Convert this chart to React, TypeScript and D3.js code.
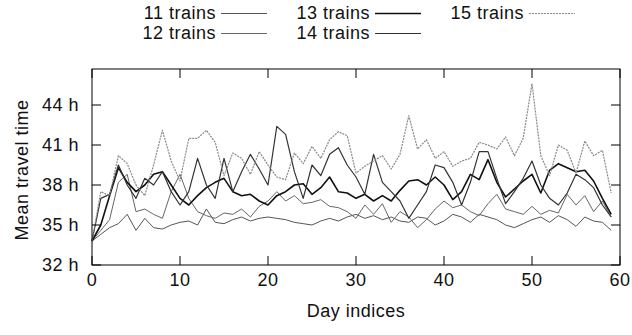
import React, { useEffect, useRef } from 'react'
import * as d3 from 'd3'

const days = d3.range(0, 60)

const trains11 = [33.8, 34.3, 34.8, 35.1, 35.8, 34.6, 35.5, 34.8, 34.7, 35.0, 35.2, 35.3, 35.0, 36.2, 35.2, 35.1, 35.4, 35.6, 35.3, 35.5,
  35.6, 35.5, 35.4, 35.2, 35.1, 35.0, 35.3, 35.5, 35.3, 35.6, 35.8, 35.5, 35.7, 35.4, 35.6, 35.3, 35.2, 35.6, 35.5, 35.0,
  35.3, 35.8, 35.6, 35.2, 35.8, 35.6, 35.4, 35.0, 34.8, 35.1, 35.4, 35.6, 35.2, 35.7, 35.4, 34.9, 35.6, 35.3, 35.2, 34.6]
const trains12 = [33.8, 34.6, 35.4, 38.2, 38.8, 36.0, 36.2, 35.8, 35.5, 37.5, 38.8, 37.0, 36.0, 35.7, 35.5, 35.9, 35.8, 36.2, 35.6, 36.4,
  36.8, 37.5, 36.8, 37.2, 36.6, 36.7, 36.9, 36.4, 36.3, 36.0, 35.5, 36.5, 35.8, 36.6, 35.2, 36.0, 35.6, 34.8, 35.4, 36.2,
  36.8, 36.3, 36.5, 36.0, 35.7, 36.6, 37.3, 36.2, 36.0, 35.8, 36.4, 35.8, 36.1, 35.9, 37.3, 36.5, 37.2, 36.0, 36.8, 35.6]
const trains13 = [33.8, 35.0, 37.2, 39.3, 38.2, 37.5, 38.0, 38.8, 39.0, 38.0, 37.0, 36.5, 37.2, 37.8, 38.2, 38.5, 37.5, 37.2, 37.3, 36.8,
  36.5, 37.2, 37.5, 38.0, 38.1, 37.3, 37.8, 38.6, 37.5, 37.4, 37.0, 37.3, 36.8, 37.2, 36.8, 37.6, 38.3, 38.4, 38.0, 38.6,
  38.0, 36.9, 37.5, 38.8, 38.4, 39.9, 38.2, 37.1, 37.7, 38.3, 38.8, 37.4, 39.1, 39.6, 39.3, 39.0, 39.1, 38.3, 37.0, 35.8]
const trains14 = [33.8, 37.0, 37.3, 39.5, 38.0, 37.0, 38.5, 38.0, 39.0, 37.5, 36.5, 37.5, 40.0, 38.0, 37.0, 40.0, 37.5, 39.0, 40.3, 39.2,
  38.0, 42.4, 41.8, 39.0, 37.0, 39.5, 38.7, 40.3, 40.8, 39.5, 38.6, 37.3, 40.3, 38.2, 37.5, 36.8, 35.5, 36.5, 37.5, 39.5,
  39.3, 38.2, 36.5, 38.2, 40.5, 40.5, 38.5, 36.6, 37.5, 38.5, 39.8, 38.0, 37.0, 36.5, 37.4, 38.8, 38.4, 37.8, 36.5, 35.6]
const trains15 = [33.8, 37.5, 37.2, 40.2, 39.6, 38.0, 37.2, 39.5, 42.1, 39.8, 38.3, 41.5, 41.5, 42.1, 41.2, 38.7, 40.4, 40.0, 38.8, 40.5,
  39.5, 38.6, 38.4, 40.4, 39.6, 40.9, 40.0, 41.4, 42.0, 41.7, 38.9, 39.4, 39.8, 40.2, 39.2, 40.3, 43.2, 40.7, 41.4, 40.0,
  40.5, 39.4, 39.8, 40.0, 41.2, 41.0, 40.7, 41.6, 40.2, 41.5, 45.6, 40.2, 38.7, 41.0, 40.6, 38.9, 41.3, 40.2, 40.6, 37.4]

const seriesNames = ['11 trains', '12 trains', '13 trains', '14 trains', '15 trains']
const seriesValues = [trains11, trains12, trains13, trains14, trains15]
const xTicks = [0, 10, 20, 30, 40, 50, 60]
const yTicks = [32, 35, 38, 41, 44]

// line looks, in the same order as the series
const styles = [
  { color: '#555', width: 1, dash: null },
  { color: '#666', width: 1, dash: null },
  { color: '#111', width: 1.6, dash: null },
  { color: '#333', width: 1.2, dash: null },
  { color: '#888', width: 1.2, dash: '2,1' },
]

const width = 632
const height = 335
const margin = { left: 92, right: 12, top: 69, bottom: 70 }
const font = '"Liberation Sans", Arial, Helvetica, sans-serif'

export default function App() {
  const ref = useRef<SVGSVGElement>(null)

  useEffect(() => {
    const svg = d3.select(ref.current)
    svg.selectAll('*').remove()

    const x = d3.scaleLinear().domain([0, 60]).range([margin.left, width - margin.right])
    const y = d3.scaleLinear().domain([32, 46.7]).range([height - margin.bottom, margin.top])
    const tick = 9

    const g = svg.append('g')

    // lines
    const line = d3.line<number>()
      .x((_, i) => x(days[i]))
      .y(d => y(d))

    seriesValues.forEach((vals, i) => {
      g.append('path')
        .datum(vals)
        .attr('d', line)
        .attr('fill', 'none')
        .attr('stroke', styles[i].color)
        .attr('stroke-width', styles[i].width)
        .attr('stroke-dasharray', styles[i].dash)
        .attr('stroke-linejoin', 'round')
    })

    // frame
    const [x0, x1] = x.range()
    const [y0, y1] = y.range()
    g.append('rect')
      .attr('x', x0).attr('y', y1)
      .attr('width', x1 - x0).attr('height', y0 - y1)
      .attr('fill', 'none').attr('stroke', '#000').attr('stroke-width', 1)

    // ticks, drawn inward on all four sides
    xTicks.forEach(t => {
      g.append('line').attr('x1', x(t)).attr('x2', x(t)).attr('y1', y0).attr('y2', y0 - tick).attr('stroke', '#000')
      g.append('line').attr('x1', x(t)).attr('x2', x(t)).attr('y1', y1).attr('y2', y1 + tick).attr('stroke', '#000')
      g.append('text')
        .attr('x', x(t)).attr('y', 286)
        .attr('text-anchor', 'middle')
        .text(t)
    })
    yTicks.forEach(t => {
      g.append('line').attr('x1', x0).attr('x2', x0 + tick).attr('y1', y(t)).attr('y2', y(t)).attr('stroke', '#000')
      g.append('line').attr('x1', x1).attr('x2', x1 - tick).attr('y1', y(t)).attr('y2', y(t)).attr('stroke', '#000')
      g.append('text')
        .attr('x', 79).attr('y', y(t))
        .attr('dy', '0.36em')
        .attr('text-anchor', 'end')
        .text(`${t} h`)
    })

    // axis titles
    g.append('text')
      .attr('x', (x0 + x1) / 2).attr('y', 317)
      .attr('text-anchor', 'middle')
      .text('Day indices')
    g.append('text')
      .attr('transform', `translate(28,${(y0 + y1) / 2 + 3}) rotate(-90)`)
      .attr('text-anchor', 'middle')
      .text('Mean travel time')

    // legend, gnuplot style: text right-justified before the sample
    seriesNames.forEach((name, i) => {
      const col = Math.floor(i / 2)
      const row = i % 2
      const tx = 216 + col * 154
      const ty = 19 + row * 20
      g.append('text')
        .attr('x', tx).attr('y', ty)
        .attr('text-anchor', 'end')
        .text(name)
      g.append('line')
        .attr('x1', tx + 5).attr('x2', tx + 51)
        .attr('y1', ty - 5.5).attr('y2', ty - 5.5)
        .attr('stroke', styles[i].color)
        .attr('stroke-width', styles[i].width)
        .attr('stroke-dasharray', styles[i].dash)
    })

    svg.selectAll('text')
      .attr('font-family', font)
      .attr('font-size', 18)
      .attr('letter-spacing', 0.5)
      .attr('fill', '#111')
  }, [])

  return (
    <svg ref={ref} width={width} height={height} style={{ display: 'block', position: 'absolute', left: 0, top: 0 }} />
  )
}
